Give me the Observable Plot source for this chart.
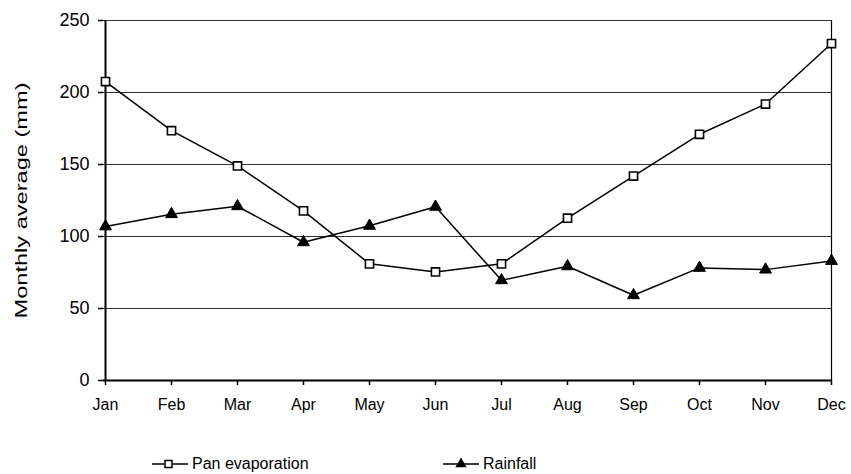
<!DOCTYPE html>
<html>
<head>
<meta charset="utf-8">
<script src="https://cdn.jsdelivr.net/npm/d3@7"></script>
<script src="https://cdn.jsdelivr.net/npm/@observablehq/plot@0.6"></script>
<style>
  body { margin: 0; background: #fff; font-family: "Liberation Sans", Arial, sans-serif; }
  #chart { position: relative; width: 851px; }
  .legend { position: relative; height: 54px; font-size: 16px; color: #000; }
  .legend .item { position: absolute; top: 35px; display: flex; align-items: center; }
  .legend svg { margin-right: 3px; }
</style>
</head>
<body>
<div id="chart"></div>
<script>
const months = ["Jan","Feb","Mar","Apr","May","Jun","Jul","Aug","Sep","Oct","Nov","Dec"];
const panEvaporation = [207.6, 173.5, 149, 117.8, 81, 75.4, 81, 112.7, 142, 171, 192, 234];
const rainfall = [107, 115.5, 121, 96, 107.4, 120.6, 69.6, 79.3, 59.2, 78.2, 77, 83];
const yTicks = [0, 50, 100, 150, 200, 250];
const seriesNames = ["Pan evaporation", "Rainfall"];
const yTitle = "Monthly average (mm)";

const pan = months.map((m, i) => ({month: m, value: panEvaporation[i]}));
const rain = months.map((m, i) => ({month: m, value: rainfall[i]}));

const plot = Plot.plot({
  width: 851,
  height: 420,
  marginLeft: 103,
  marginRight: 19,
  marginTop: 20,
  marginBottom: 40,
  style: {fontFamily: "'Liberation Sans', Arial, sans-serif", color: "#000", background: "#fff"},
  x: {type: "point", domain: months, padding: 0, label: null},
  y: {domain: [0, 250], ticks: yTicks, label: null},
  marks: [
    Plot.ruleY(yTicks.filter(d => d > 0), {stroke: "#000", strokeWidth: 1, strokeOpacity: 0.8}),
    Plot.ruleX(["Dec"], {stroke: "#000", strokeWidth: 1.2}),
    Plot.axisY({ticks: yTicks, tickSize: 5, tickPadding: 9, fontSize: 18, label: null, strokeWidth: 1.5}),
    Plot.axisX({tickSize: 5, tickPadding: 13, fontSize: 16, fontFamily: "'Liberation Sans Narrow', 'Liberation Sans', Arial, sans-serif", label: null, strokeWidth: 1.5}),
    Plot.ruleX([0], {x: () => "Jan", stroke: "#000", strokeWidth: 2}),
    Plot.ruleY([0], {stroke: "#000", strokeWidth: 2}),
    Plot.line(pan, {x: "month", y: "value", stroke: "#000", strokeWidth: 1.5}),
    Plot.line(rain, {x: "month", y: "value", stroke: "#000", strokeWidth: 1.5}),
    Plot.dot(pan, {x: "month", y: "value", symbol: "square", r: 4.6, fill: "#fff", stroke: "#000", strokeWidth: 1.6}),
    Plot.dot(rain, {x: "month", y: "value", symbol: "triangle", r: 4.4, fill: "#000", stroke: "#000", strokeWidth: 1}),
    Plot.text([yTitle], {frameAnchor: "left", dx: -82, rotate: -90, textAnchor: "middle", lineAnchor: "middle", fontSize: 17, fill: "#000"})
  ]
});
// stretch the y title along its length as in the reference
d3.select(plot).selectAll("text").filter(function() { return this.textContent === yTitle; })
  .attr("textLength", 236).attr("lengthAdjust", "spacingAndGlyphs");
document.getElementById("chart").appendChild(plot);

// legend below the svg
const legend = document.createElement("div");
legend.className = "legend";
const positions = [152, 443];
seriesNames.forEach((name, i) => {
  const item = document.createElement("div");
  item.className = "item";
  item.style.left = positions[i] + "px";
  const s = d3.create("svg").attr("width", 37).attr("height", 14);
  s.append("line").attr("x1", 0).attr("x2", 36).attr("y1", 7).attr("y2", 7).attr("stroke", "#000").attr("stroke-width", 1.5);
  if (i === 0) {
    s.append("rect").attr("x", 13).attr("y", 3.5).attr("width", 7).attr("height", 7).attr("fill", "#fff").attr("stroke", "#000").attr("stroke-width", 1.5);
  } else {
    s.append("path").attr("d", d3.symbol(d3.symbolTriangle, 55)()).attr("transform", "translate(18,7)").attr("fill", "#000");
  }
  item.appendChild(s.node());
  const t = document.createElement("span");
  t.textContent = name;
  item.appendChild(t);
  legend.appendChild(item);
});
document.getElementById("chart").appendChild(legend);
</script>
</body>
</html>
